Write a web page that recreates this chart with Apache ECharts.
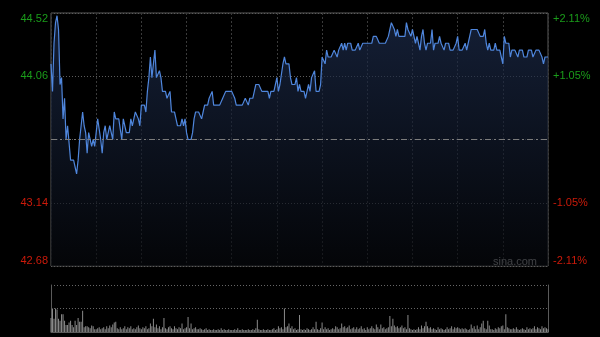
<!DOCTYPE html>
<html>
<head>
<meta charset="utf-8">
<script src="https://cdn.jsdelivr.net/npm/echarts@6/dist/echarts.min.js"></script>
<style>
html,body{margin:0;padding:0;background:#000;}
#c{width:600px;height:337px;}
</style>
</head>
<body>
<div id="c"></div>
<script>
// ---- data ----
const prevClose = 43.60;
const priceMin = 42.68;
const priceMax = 44.52;
const prices = [
44.15,43.95,44.30,44.45,44.50,44.40,44.00,44.05,43.75,43.90,
43.60,43.70,43.70,43.45,43.45,43.45,43.40,43.35,43.45,43.60,
43.70,43.80,43.70,43.65,43.50,43.65,43.65,43.55,43.60,43.55,
43.65,43.75,43.75,43.60,43.50,43.65,43.70,43.60,43.60,43.70,
43.65,43.60,43.80,43.75,43.75,43.75,43.75,43.60,43.75,43.70,
43.65,43.65,43.65,43.75,43.70,43.75,43.80,43.80,43.75,43.70,
43.85,43.85,43.85,43.80,43.95,44.05,44.20,44.05,44.15,44.25,
44.05,44.05,44.10,44.05,43.95,43.95,43.95,43.90,43.90,43.95,
43.80,43.80,43.80,43.75,43.70,43.70,43.70,43.75,43.70,43.75,
43.65,43.60,43.60,43.60,43.65,43.75,43.80,43.80,43.80,43.80,
43.75,43.80,43.85,43.85,43.85,43.90,43.90,43.95,43.85,43.85,
43.85,43.85,43.85,43.85,43.90,43.90,43.95,43.95,43.95,43.95,
43.95,43.95,43.90,43.85,43.85,43.85,43.85,43.85,43.85,43.90,
43.90,43.85,43.90,43.90,43.90,43.95,44.00,44.00,44.00,44.00,
43.95,43.95,43.95,43.95,43.95,43.90,43.95,43.95,43.95,44.00,
44.05,43.95,44.00,44.00,44.15,44.20,44.15,44.15,44.15,44.05,
44.00,44.00,44.00,44.05,43.95,44.00,43.95,43.95,43.95,43.90,
43.95,44.00,43.95,44.05,44.05,44.10,43.95,43.95,43.95,44.00,
44.20,44.20,44.15,44.25,44.20,44.20,44.20,44.20,44.25,44.25,
44.20,44.25,44.25,44.30,44.25,44.30,44.25,44.30,44.30,44.30,
44.25,44.25,44.25,44.25,44.30,44.25,44.25,44.30,44.30,44.30,
44.30,44.30,44.30,44.30,44.35,44.35,44.35,44.35,44.30,44.30,
44.30,44.30,44.30,44.30,44.35,44.40,44.45,44.45,44.40,44.35,
44.40,44.35,44.35,44.35,44.35,44.35,44.45,44.40,44.40,44.35,
44.40,44.35,44.30,44.35,44.30,44.25,44.35,44.40,44.30,44.25,
44.30,44.30,44.30,44.40,44.25,44.30,44.30,44.30,44.35,44.30,
44.30,44.25,44.30,44.30,44.30,44.25,44.25,44.25,44.25,44.30,
44.35,44.25,44.25,44.25,44.25,44.30,44.25,44.30,44.35,44.40,
44.40,44.40,44.40,44.40,44.40,44.35,44.35,44.35,44.40,44.30,
44.25,44.30,44.25,44.25,44.25,44.30,44.25,44.25,44.25,44.20,
44.15,44.35,44.30,44.30,44.30,44.20,44.25,44.25,44.25,44.25,
44.20,44.25,44.25,44.25,44.20,44.20,44.20,44.25,44.25,44.25,
44.20,44.20,44.25,44.25,44.25,44.25,44.20,44.15,44.20,44.20,
44.20
];
const volumes = [
30,50,28,50,48,28,24,38,38,24,
15,15,20,24,15,10,24,15,30,22,
22,45,10,12,12,10,8,14,12,6,
6,8,10,6,8,10,6,12,8,14,
10,16,20,22,8,6,10,6,8,12,
6,10,8,12,6,8,6,10,14,8,
6,10,8,12,6,8,18,12,28,10,
16,8,12,6,10,30,8,6,10,12,
8,6,12,8,6,10,8,18,6,8,
10,32,8,18,6,8,10,6,6,8,
6,4,6,8,4,6,4,4,6,4,
4,6,4,8,4,6,4,4,6,4,
4,4,6,4,8,4,4,6,4,4,
4,6,4,4,6,4,8,26,6,4,
4,6,4,4,6,4,4,6,8,4,
6,12,8,10,6,50,10,12,18,8,
12,6,8,4,6,36,6,4,6,4,
8,6,4,6,10,6,22,6,4,8,
20,6,10,6,8,4,6,8,6,12,
10,6,8,18,10,12,8,10,14,6,
8,10,6,10,6,8,12,6,8,4,
10,6,8,12,8,6,16,10,6,16,
8,10,6,8,10,34,12,28,14,10,
12,8,10,14,8,10,6,36,8,6,
4,6,4,6,10,6,14,8,12,22,
12,8,10,6,8,6,4,10,6,8,
6,4,6,10,6,8,12,6,10,8,
10,8,6,8,6,8,6,4,6,16,
8,12,6,14,6,10,18,24,8,6,
24,14,6,6,4,8,6,10,8,12,
14,6,38,10,8,6,6,8,6,10,
6,4,6,8,6,4,10,6,8,6,
8,12,6,10,8,6,12,8,10,8,
6
];
const volumeMax = 100;
const watermark = 'sina.com';

// categories: HK trading minutes (morning + afternoon sessions)
const minutes = [];
(function(){
  function fmt(h,m){return (h<10?'0':'')+h+':'+(m<10?'0':'')+m;}
  for (let t = 9*60+30; t <= 12*60; t++) minutes.push(fmt(Math.floor(t/60), t%60));
  for (let t = 13*60+1; t <= 16*60; t++) minutes.push(fmt(Math.floor(t/60), t%60));
})();

// ---- build ----
const base = Math.round(prevClose*100);
const yMin = Math.round(priceMin*100) - base;
const yMax = Math.round(priceMax*100) - base;
const yStep = yMax/2;
const rel = prices.map(p => Math.round(p*100) - base);

function priceLabel(v){ return v === 0 ? '' : ((base + v)/100).toFixed(2); }
function pctLabel(v){
  if (v === 0) return '';
  const p = Math.floor(Math.abs(v)/base*10000)/100;
  return (v > 0 ? '+' : '-') + p.toFixed(2) + '%';
}
function labelColor(v){ return (typeof v === 'string' ? parseFloat(v) : v) >= 0 ? '#1a9c1a' : '#cc1a0a'; }

const chart = echarts.init(document.getElementById('c'), null, {renderer:'canvas'});
chart.setOption({
  backgroundColor: '#000',
  animation: false,
  grid: [
    {left: 51, top: 13, width: 497, height: 253, show: true, borderColor: '#5a5a5a', borderWidth: 1},
    {left: 51, top: 285, width: 497, height: 47, show: false}
  ],
  xAxis: [
    {type:'category', gridIndex:0, data: minutes, boundaryGap:false,
     axisLine:{show:false}, axisTick:{show:false}, axisLabel:{show:false},
     splitLine:{show:true, interval:29, lineStyle:{color:'#3a3a3a', type:[2,2], width:1}}},
    {type:'category', gridIndex:1, data: minutes, boundaryGap:false,
     axisLine:{show:true, lineStyle:{color:'#5a5a5a'}}, axisTick:{show:false}, axisLabel:{show:false},
     splitLine:{show:false}}
  ],
  yAxis: [
    {type:'value', gridIndex:0, min:yMin, max:yMax, interval:yStep,
     axisLine:{show:false}, axisTick:{show:false},
     axisLabel:{show:true, fontSize:11, fontFamily:'Liberation Sans, Arial, sans-serif', margin:3,
       formatter: priceLabel, color: v => labelColor(v),
       verticalAlignMinLabel:'bottom', verticalAlignMaxLabel:'top'},
     splitLine:{show:true, lineStyle:{color:'#5c5c5c', type:[1,2], width:1}}},
    {type:'value', gridIndex:0, position:'right', min:yMin, max:yMax, interval:yStep,
     axisLine:{show:false}, axisTick:{show:false},
     axisLabel:{show:true, fontSize:11, fontFamily:'Liberation Sans, Arial, sans-serif', margin:5,
       formatter: pctLabel, color: v => labelColor(v),
       verticalAlignMinLabel:'bottom', verticalAlignMaxLabel:'top'},
     splitLine:{show:false}},
    {type:'value', gridIndex:1, min:0, max:volumeMax, interval:volumeMax/2,
     axisLine:{show:true, lineStyle:{color:'#5a5a5a'}}, axisTick:{show:false}, axisLabel:{show:false},
     splitLine:{show:true, lineStyle:{color:'#666', type:[1,2], width:1}}},
    {type:'value', gridIndex:1, position:'right', min:0, max:volumeMax,
     axisLine:{show:true, lineStyle:{color:'#5a5a5a'}}, axisTick:{show:false}, axisLabel:{show:false},
     splitLine:{show:false}}
  ],
  graphic: [
    {type:'text', right: 63, top: 256, style:{text: watermark, fill:'#b0b0b0', font:'11px Liberation Sans, Arial, sans-serif'}}
  ],
  series: [
    {type:'line', xAxisIndex:0, yAxisIndex:0, data: rel, symbol:'none', smooth:false,
     lineStyle:{color:'#4f86dc', width:1.2},
     areaStyle:{origin:'start', color: new echarts.graphic.LinearGradient(0,0,0,1,[
       {offset:0, color:'rgba(30,46,80,0.95)'},
       {offset:1, color:'rgba(6,8,12,0.95)'}])},
     markLine:{silent:true, symbol:'none', label:{show:false},
       lineStyle:{color:'#7c7c7c', type:[6,3,2,3], width:1},
       data:[{yAxis:0}]}},
    {type:'bar', xAxisIndex:1, yAxisIndex:2, data: volumes, barWidth:1,
     itemStyle:{color:'#8a8a8a'}}
  ]
});
</script>
</body>
</html>
